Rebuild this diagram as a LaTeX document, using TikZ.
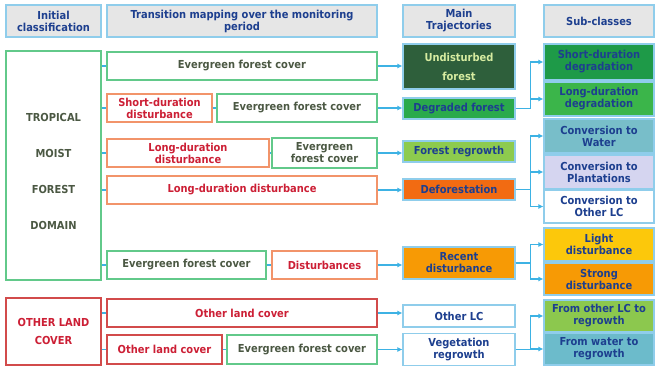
\documentclass[tikz,border=0pt]{standalone}
\usepackage{fontspec}
\newfontfamily\diafont{DejaVu Sans}[FakeStretch=0.9]
\usetikzlibrary{arrows.meta}

\definecolor{hgray}{HTML}{E6E6E6}
\definecolor{lblue}{HTML}{8FCDEB}
\definecolor{dblue}{HTML}{1D3F8F}
\definecolor{lgreen}{HTML}{62C98A}
\definecolor{lorange}{HTML}{F2946A}
\definecolor{lred}{HTML}{D24B4B}
\definecolor{dred}{HTML}{CC1F35}
\definecolor{evgtext}{HTML}{4B5843}
\definecolor{conn}{HTML}{3DB2E4}
\definecolor{undfill}{HTML}{2E5F3B}
\definecolor{undtext}{HTML}{D6EBA0}
\definecolor{degfill}{HTML}{2AAA4B}
\definecolor{regfill}{HTML}{8DCB4E}
\definecolor{deffill}{HTML}{F26B12}
\definecolor{recfill}{HTML}{F79A05}
\definecolor{sdegfill}{HTML}{1E9A48}
\definecolor{ldegfill}{HTML}{3BB54A}
\definecolor{watfill}{HTML}{78BEC9}
\definecolor{plafill}{HTML}{D5D5F0}
\definecolor{ligfill}{HTML}{FCC80B}
\definecolor{fromfill}{HTML}{8CC84E}
\definecolor{fwatfill}{HTML}{6CBBCB}

\begin{document}
\begin{tikzpicture}[x=1pt,y=-1pt,
                    every node/.style={font=\diafont\bfseries\fontsize{11}{12}\selectfont,align=center,inner sep=0pt,line width=1.2pt},
                    head/.style={draw=lblue,fill=hgray,text=dblue},
                    grbox/.style={draw=lgreen,text=evgtext,minimum height=28},
                    orbox/.style={draw=lorange,text=dred,minimum height=28},
                    rdbox/.style={draw=lred,text=dred,minimum height=28},
                    trajbox/.style={draw=lblue,text=dblue,minimum width=112},
                    subbox/.style={draw=lblue,text=dblue,minimum width=110},
                    link/.style={draw=conn,line width=1.3pt},
                    arr/.style={link,-{Latex[length=5pt,width=5pt]}}
]
\useasboundingbox (0,0) rectangle (655,366);

\node [head, minimum width=95, minimum height=32] at (53.5,21) (hinit) {Initial\\classification};
\node [head, minimum width=270, minimum height=32] at (242,21) (htrans) {Transition mapping over the monitoring\\period};
\node [head, minimum width=112, minimum height=32] at (459,21) (hmain) {Main\\Trajectories};
\node [head, minimum width=110, minimum height=32] at (599,21) (hsub) {Sub-classes};
%
\node [draw=lgreen, minimum width=95, minimum height=229] at (53.5,165.5) (trop) {};
\node [text=evgtext] at (53.5,171) (troplabel) {TROPICAL\\[24pt]MOIST\\[24pt]FOREST\\[24pt]DOMAIN};
\node [draw=lred, text=dred, minimum width=95, minimum height=67] at (53.5,331.5) (oth) {OTHER LAND\\[6pt]COVER};
%
\node [grbox, minimum width=270] at (242,66) (r1) {Evergreen forest cover};
\node [orbox, minimum width=105] at (159.5,108) (r2a) {Short-duration\\disturbance};
\node [grbox, minimum width=160] at (297,108) (r2b) {Evergreen forest cover};
\node [orbox, minimum width=162] at (188,153) (r3a) {Long-duration\\disturbance};
\node [grbox, minimum width=105, minimum height=30] at (324.5,153) (r3b) {Evergreen\\forest cover};
\node [orbox, minimum width=270] at (242,190) (r4) {Long-duration disturbance};
\node [grbox, minimum width=159] at (186.5,265) (r5a) {Evergreen forest cover};
\node [orbox, minimum width=105] at (324.5,265) (r5b) {Disturbances};
\node [rdbox, minimum width=270] at (242,313) (r6) {Other land cover};
\node [rdbox, minimum width=115, minimum height=29] at (164.5,349.5) (r7a) {Other land cover};
\node [grbox, minimum width=150, minimum height=29] at (302,349.5) (r7b) {Evergreen forest cover};
%
\node [trajbox, fill=undfill, text=undtext, minimum height=45] at (459,66.5) (undist) {Undisturbed\\[7pt]forest};
\node [trajbox, fill=degfill, minimum height=21] at (459,108.5) (degr) {Degraded forest};
\node [trajbox, fill=regfill, minimum height=21] at (459,151.5) (fregr) {Forest regrowth};
\node [trajbox, fill=deffill, minimum height=21] at (459,189.5) (defor) {Deforestation};
\node [trajbox, fill=recfill, minimum height=32] at (459,263) (recent) {Recent\\disturbance};
\node [trajbox, fill=white, minimum height=22] at (459,316) (othlc) {Other LC};
\node [trajbox, fill=white, minimum height=32] at (459,349.5) (veg) {Vegetation\\regrowth};
%
\node [subbox, fill=sdegfill, minimum height=36] at (599,62) (sdeg) {Short-duration\\degradation};
\node [subbox, fill=ldegfill, minimum height=34] at (599,99) (ldeg) {Long-duration\\degradation};
\node [subbox, fill=watfill, minimum height=34] at (599,136) (cwat) {Conversion to\\Water};
\node [subbox, fill=plafill, minimum height=34] at (599,172) (cpla) {Conversion to\\Plantations};
\node [subbox, fill=white, minimum height=33] at (599,206.5) (coth) {Conversion to\\Other LC};
\node [subbox, fill=ligfill, minimum height=33] at (599,244.5) (ldis) {Light\\disturbance};
\node [subbox, fill=recfill, minimum height=32] at (599,279) (sdis) {Strong\\disturbance};
\node [subbox, fill=fromfill, minimum height=32] at (599,316) (folc) {From other LC to\\regrowth};
\node [subbox, fill=fwatfill, minimum height=32] at (599,349) (fwat) {From water to\\regrowth};
%
\draw [link] (r1.west -| trop.east) -- (r1.west);
\draw [link] (r2a.west -| trop.east) -- (r2a.west);
\draw [link] (r3a.west -| trop.east) -- (r3a.west);
\draw [link] (r4.west -| trop.east) -- (r4.west);
\draw [link] (r5a.west -| trop.east) -- (r5a.west);
\draw [link] (r6.west -| oth.east) -- (r6.west);
\draw [link] (r7a.west -| oth.east) -- (r7a.west);
\draw [link] (r2a.east) -- (r2b.west);
\draw [link] (r3a.east) -- (r3b.west);
\draw [link] (r5a.east) -- (r5b.west);
\draw [link] (r7a.east) -- (r7b.west);
%
\draw [arr] (r1.east) -- (r1.east -| undist.west);
\draw [arr] (r2b.east) -- (r2b.east -| degr.west);
\draw [arr] (r3b.east) -- (r3b.east -| fregr.west);
\draw [arr] (r4.east) -- (r4.east -| defor.west);
\draw [arr] (r5b.east) -- (r5b.east -| recent.west);
\draw [arr] (r6.east) -- (r6.east -| othlc.west);
\draw [arr] (r7b.east) -- (r7b.east -| veg.west);
%
\draw [arr] (degr.east) -- ++(15,0) |- (sdeg.west);
\draw [arr] (degr.east) -- ++(15,0) |- (ldeg.west);
\draw [arr] (defor.east) -- ++(15,0) |- (cwat.west);
\draw [arr] (defor.east) -- ++(15,0) |- (cpla.west);
\draw [arr] (defor.east) -- ++(15,0) |- (coth.west);
\draw [arr] (recent.east) -- ++(15,0) |- (ldis.west);
\draw [arr] (recent.east) -- ++(15,0) |- (sdis.west);
\draw [arr] (veg.east) -- ++(15,0) |- (folc.west);
\draw [arr] (veg.east) -- ++(15,0) |- (fwat.west);
\end{tikzpicture}
\end{document}
